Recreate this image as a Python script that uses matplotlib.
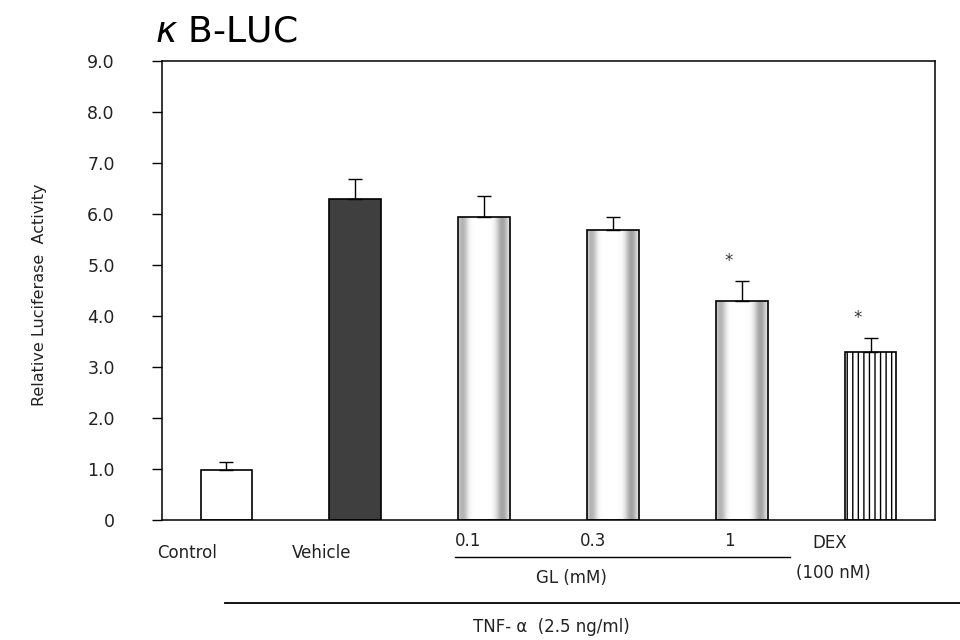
import numpy as np
import matplotlib
matplotlib.use("Agg")
import matplotlib.pyplot as plt
from matplotlib.lines import Line2D

# ---- data ----
categories = ["Control", "Vehicle", "0.1", "0.3", "1", "DEX"]
values = [0.98, 6.29, 5.95, 5.68, 4.29, 3.30]
errors = [0.16, 0.39, 0.41, 0.27, 0.39, 0.26]
significant = [False, False, False, False, True, True]
yticks = [0, 1, 2, 3, 4, 5, 6, 7, 8, 9]
ytick_labels = ["0", "1.0", "2.0", "3.0", "4.0", "5.0", "6.0", "7.0", "8.0", "9.0"]
title = r"$\kappa$ B-LUC"
ylabel = "Relative Luciferase  Activity"
gl_label = "GL (mM)"
dex_sub = "(100 nM)"
tnf_label = "TNF- \u03b1  (2.5 ng/ml)"

plt.rcParams['font.family'] = ['DejaVu Sans']
plt.rcParams['hatch.linewidth'] = 1.0

W, H = 960, 640
fig = plt.figure(figsize=(W / 100, H / 100), dpi=100)
L, R, T, B = 162, 935, 61, 520
ax = fig.add_axes([L / W, 1 - B / H, (R - L) / W, (B - T) / H])

x = np.arange(len(categories))
width = 0.40
styles = ["white", "dark", "grad", "grad", "grad", "vlines"]

for xi, v, st in zip(x, values, styles):
    if st == "white":
        ax.bar(xi, v, width, color="white", edgecolor="black", linewidth=1.2, zorder=2)
    elif st == "dark":
        ax.bar(xi, v, width, color="#3f3f3f", edgecolor="black", linewidth=1.2, zorder=2)
    elif st == "vlines":
        ax.bar(xi, v, width, color="white", edgecolor="black", hatch="|||",
               linewidth=1.2, zorder=2)
    else:
        bars = ax.bar(xi, v, width, color="white", edgecolor="none", zorder=2)
        patch = bars[0]
        u = np.linspace(0, 1, 80)
        prof = 1 - 0.30 * np.exp(-((u - 0.08) / 0.11) ** 2) - 0.36 * np.exp(-((u - 0.86) / 0.12) ** 2)
        img = np.tile(prof, (2, 1))
        im = ax.imshow(img, cmap="gray", vmin=0, vmax=1, aspect="auto",
                       extent=(xi - width / 2, xi + width / 2, 0, v), zorder=2.5,
                       interpolation="bilinear")
        im.set_clip_path(patch)
        ax.bar(xi, v, width, color="none", edgecolor="black", linewidth=1.2, zorder=3)

ax.errorbar(x, values, yerr=[np.zeros(len(values)), errors], fmt="none",
            ecolor="black", elinewidth=1.0, capsize=5, capthick=1.0, zorder=4)

for xi, v, e, s in zip(x, values, errors, significant):
    if s:
        ax.annotate("*", (xi - 0.1, v + e), xytext=(0, 8), textcoords="offset points",
                    ha="center", va="bottom", fontsize=12, color="#333333")

ax.set_xlim(-0.5, 5.5)
ax.set_ylim(0, 9)
ax.set_yticks(yticks)
ax.set_yticklabels(ytick_labels, fontsize=12.5, color="#222222")
ax.set_xticks([])
ax.tick_params(axis="y", direction="out", length=7, width=1, pad=27)
for sp in ax.spines.values():
    sp.set_linewidth(1.1)

def fx(px):
    return px / W

def fy(py):
    return 1 - py / H

# title & ylabel
fig.text(fx(155), fy(42), title, fontsize=26, ha="left", va="baseline")
fig.text(fx(40), fy(295), ylabel, fontsize=11.5, rotation=90, ha="center", va="center",
         color="#222222")

# category labels under axis
label_px = [(187, 553), (322, 553), (468, 541), (593, 541), (729, 541), (830, 543)]
for lab, (px, py) in zip(categories, label_px):
    fig.text(fx(px), fy(py), lab, fontsize=12, ha="center", va="center", color="#222222")

fig.text(fx(833), fy(573), dex_sub, fontsize=12, ha="center", va="center", color="#222222")

fig.add_artist(Line2D([fx(455), fx(790)], [fy(557), fy(557)], color="black", linewidth=1.0))
fig.text(fx(571), fy(578), gl_label, fontsize=12, ha="center", va="center", color="#222222")

fig.add_artist(Line2D([fx(225), fx(960)], [fy(603), fy(603)], color="black", linewidth=1.3))
fig.text(fx(551), fy(627), tnf_label, fontsize=12, ha="center", va="center", color="#222222")

fig.savefig("out.png", dpi=100)
